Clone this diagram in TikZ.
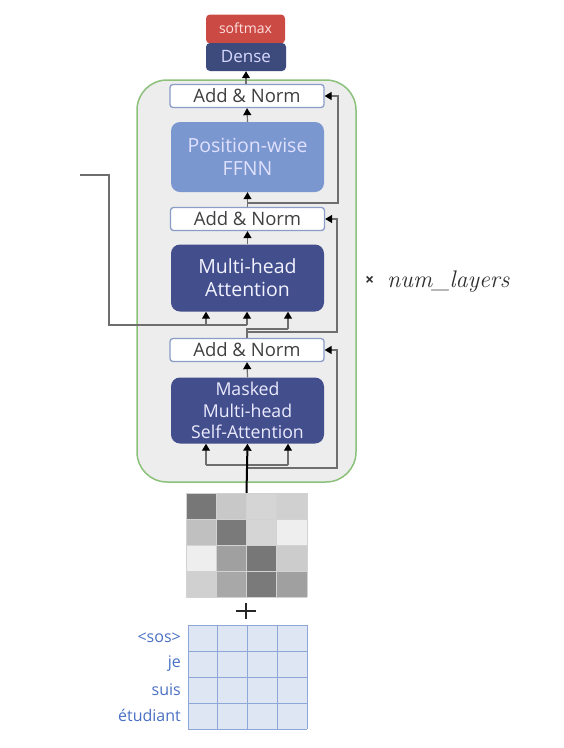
\documentclass[tikz,border=0pt]{standalone}
\usepackage{fontspec}
\newfontfamily\boxfont{Open Sans}
\usetikzlibrary{arrows.meta}
\definecolor{cred}{HTML}{CC4A44}
\definecolor{cdense}{HTML}{3D4A7C}
\definecolor{cffnn}{HTML}{7B97CF}
\definecolor{cmha}{HTML}{434E8C}
\definecolor{canb}{HTML}{8A9CC8}
\definecolor{cframe}{HTML}{EDEDED}
\definecolor{cgreen}{HTML}{8CC17A}
\definecolor{cline}{HTML}{6E6E6E}
\definecolor{ctext}{HTML}{404040}
\definecolor{cemb}{HTML}{DFE6F3}
\definecolor{cembl}{HTML}{8FA7D8}
\definecolor{clab}{HTML}{4A70C4}
\begin{document}
\begin{tikzpicture}[x=1pt,y=-1pt,
  blk/.style={rectangle,rounded corners=9pt,inner sep=0pt,align=center,font=\boxfont\fontsize{19.5}{23}\selectfont},
  anbox/.style={rectangle,rounded corners=3pt,draw=canb,line width=1.3pt,fill=white,minimum width=154pt,minimum height=23pt,inner sep=0pt,text=ctext,font=\boxfont\fontsize{18.5}{20}\selectfont},
  ln/.style={draw=cline,line width=1.2pt},
  arr/.style={ln,-{Triangle[width=8pt,length=7pt,color=black,fill=black]}},
  inarr/.style={draw=black,line width=2pt,-{Triangle[width=8pt,length=7pt]}},
  pecell/.style={draw=gray!35,line width=0.8pt},
  lab/.style={anchor=east,text=clab,inner sep=0pt,font=\boxfont\fontsize{16}{18}\selectfont}]
\useasboundingbox (0,0) rectangle (564,748);

% outer frame
\node[rectangle,rounded corners=30pt,draw=cgreen,line width=1.5pt,fill=cframe,minimum width=219pt,minimum height=402pt] (frame) at (246.5,281) {};

% top blocks
\node[blk,rounded corners=4pt,fill=cred,minimum width=79pt,minimum height=29pt,text=white!88!red,font=\boxfont\fontsize{14}{16}\selectfont] (soft) at (245.5,29) {\raisebox{2pt}{softmax}};
\node[blk,rounded corners=4pt,fill=cdense,minimum width=80pt,minimum height=28pt,text=white!85!blue,font=\boxfont\fontsize{17}{19}\selectfont] (dense) at (246,57) {Dense};

\node[anbox] (an3) at (247,96) {Add \& Norm};
\node[blk,fill=cffnn,minimum width=153pt,minimum height=70pt,text=white!88!blue] (ffnn) at (247.5,157) {Position-wise\\FFNN};
\node[anbox] (an2) at (247.5,219) {Add \& Norm};
\node[blk,fill=cmha,minimum width=153pt,minimum height=67pt,text=white!95!blue] (mha) at (247.5,278) {Multi-head\\Attention};
\node[anbox] (an1) at (247,350) {Add \& Norm};
\node[blk,fill=cmha,minimum width=153pt,minimum height=66pt,text=white!92!blue,font=\boxfont\fontsize{17.7}{21.5}\selectfont] (mmha) at (247.5,410.5) {Masked\\Multi-head\\Self-Attention};

% vertical flow
\draw[arr] (an3.north -| dense.south) -- (dense.south);
\draw[arr] (ffnn.north) -- (an3.south);
\draw[arr] (an2.north) -- (ffnn.south);
\draw[arr] (mha.north) -- (an2.south);
\draw[arr] (mmha.north) -- (an1.south);

% residual top
\coordinate (r3) at (247.5,203);
\coordinate (r3c) at (338,96);
\draw[arr] (r3) -| (r3c) -- (an3.east);

% encoder input
\coordinate (enc) at (80,175);
\coordinate (encb) at (109,325);
\coordinate (k1) at (206,325);
\coordinate (k2) at (247,325);
\draw[ln] (enc) -| (encb) -- (k2);
\draw[arr] (k1) -- (mha.south -| k1);
\draw[arr] (k2) -- (mha.south -| k2);

% decoder query + residual
\coordinate (q0) at (247,329);
\coordinate (q1) at (288,329);
\draw[ln] (an1.north) -- (q0) -- (q1);
\draw[arr] (q1) -- (mha.south -| q1);
\coordinate (r2) at (247,332);
\coordinate (r2c) at (337,219);
\draw[arr] (r2) -| (r2c) -- (an2.east);

% bottom inputs
\coordinate (b1) at (206,465);
\coordinate (b3) at (288,465);
\draw[ln] (b1) -- (b3);
\draw[arr] (b1) -- (mmha.south -| b1);
\draw[arr] (b3) -- (mmha.south -| b3);
\coordinate (r1) at (246,468);
\coordinate (r1c) at (337,350);
\draw[arr] (r1) -| (r1c) -- (an1.east);

% positional encoding matrix
\def\pex{186}\def\pey{493}\def\pew{30.25}\def\peh{26}
\foreach \r/\row in {0/{77,C8,D5,D0},1/{C0,7A,D5,EE},2/{EE,A0,77,CC},3/{D0,A8,7A,A0}}{
  \foreach \g [count=\c from 0] in \row {
    \definecolor{tmpc}{HTML}{\g\g\g}
    \fill[tmpc] (\pex+\c*\pew,\pey+\r*\peh) rectangle ++(\pew,\peh);
  }
}
\foreach \i in {0,...,4}{
  \draw[pecell] (\pex+\i*\pew,\pey) -- (\pex+\i*\pew,\pey+4*\peh);
  \draw[pecell] (\pex,\pey+\i*\peh) -- (\pex+4*\pew,\pey+\i*\peh);
}
\node[inner sep=0pt,minimum width=121pt,minimum height=104pt] (pe) at (246.5,545) {};
\draw[inarr] (pe.north) -- (mmha.south);

% plus sign
\node[inner sep=0pt,minimum width=20pt,minimum height=16pt] (plus) at (246,611) {};
\draw[line width=2.6pt,color=black!85] (plus.west) -- (plus.east) (plus.north) -- (plus.south);

% embedding matrix
\def\ex{188}\def\ey{625}\def\ew{29.75}\def\eh{26}
\fill[cemb] (\ex,\ey) rectangle ++(4*\ew,4*\eh);
\foreach \i in {0,...,4}{
  \draw[cembl,line width=1pt] (\ex+\i*\ew,\ey) -- (\ex+\i*\ew,\ey+4*\eh);
  \draw[cembl,line width=1pt] (\ex,\ey+\i*\eh) -- (\ex+4*\ew,\ey+\i*\eh);
}
\node[inner sep=0pt,minimum width=119pt,minimum height=104pt] (emb) at (247.5,677) {};
\node[lab] (l1) at (181,638) {<sos>};
\node[lab] (l2) at (181,664) {je};
\node[lab] (l3) at (181,690) {suis};
\node[lab] (l4) at (181,715) {étudiant};

% num layers
\node[anchor=west,inner sep=0pt,text=ctext!80!black,font=\boxfont\bfseries\fontsize{16}{20}\selectfont] (nx) at (365,281) {×};
\node[anchor=base west,inner sep=0pt,text=ctext!70!black,font=\fontsize{24}{26}\selectfont] (nl) at (387,287) {\textit{num\_layers}};
\end{tikzpicture}
\end{document}
